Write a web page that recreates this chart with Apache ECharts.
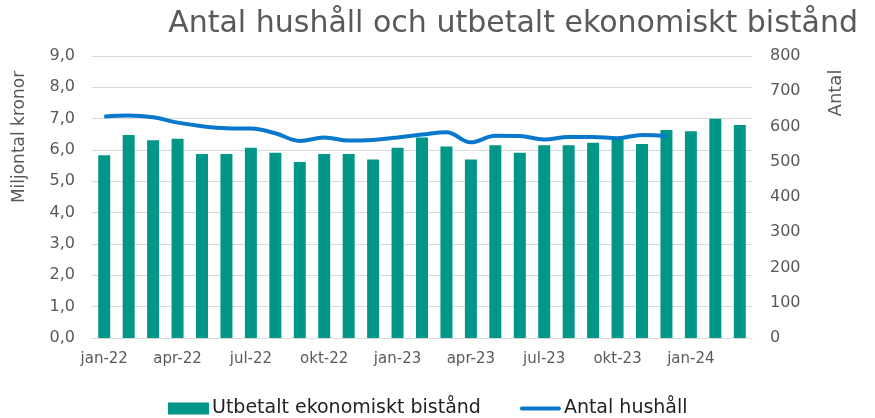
<!DOCTYPE html>
<html>
<head>
<meta charset="utf-8">
<script src="https://cdn.jsdelivr.net/npm/echarts@6/dist/echarts.min.js"></script>
<style>html,body{margin:0;padding:0;background:#fff}#c{width:875px;height:418px}</style>
</head>
<body>
<div id="c"></div>
<script>
const categories = ['jan-22','feb-22','mar-22','apr-22','maj-22','jun-22','jul-22','aug-22','sep-22','okt-22','nov-22','dec-22',
  'jan-23','feb-23','mar-23','apr-23','maj-23','jun-23','jul-23','aug-23','sep-23','okt-23','nov-23','dec-23',
  'jan-24','feb-24','mar-24'];
const utbetalt = [5.83,6.48,6.31,6.36,5.87,5.87,6.07,5.91,5.62,5.87,5.87,5.70,
  6.07,6.40,6.11,5.70,6.15,5.91,6.15,6.15,6.23,6.35,6.19,6.64,6.60,7.00,6.80];
const hushall = [628,631,626,611,601,595,594,581,559,569,560,562,
  569,577,584,555,574,573,563,570,570,567,576,573];
const leftTicks = [0,1,2,3,4,5,6,7,8,9];
const rightTicks = [0,100,200,300,400,500,600,700,800];

const font = '"DejaVu Sans", sans-serif';
const grey = '#595959';
const chart = echarts.init(document.getElementById('c'));
chart.setOption({
  animation: false,
  textStyle: {fontFamily: font},
  title: {
    text: 'Antal hushåll och utbetalt ekonomiskt bistånd',
    right: 12, top: 4,
    textStyle: {fontFamily: font, fontSize: 30, fontWeight: 'normal', color: grey}
  },
  legend: {
    top: 394, left: 163,
    itemGap: 39, itemWidth: 41, itemHeight: 12, itemStyle: {borderWidth: 0},
    textStyle: {fontFamily: font, fontSize: 19, color: '#222', padding: [0,0,0,-2]},
    data: [
      {name: 'Utbetalt ekonomiskt bistånd', icon: 'rect'},
      {name: 'Antal hushåll', icon: 'path://M2,0 L40,0 A2,2 0 0 1 40,4 L2,4 A2,2 0 0 1 2,0 Z'}
    ]
  },
  grid: {left: 92, right: 123, top: 56, bottom: 80},
  xAxis: {
    type: 'category', data: categories,
    axisLine: {lineStyle: {color: '#d9d9d9'}},
    axisTick: {interval: 2, length: 6, lineStyle: {color: '#d9d9d9'}},
    axisLabel: {interval: 2, color: grey, fontSize: 15, margin: 14, fontFamily: font}
  },
  yAxis: [
    {
      type: 'value', min: leftTicks[0], max: leftTicks[leftTicks.length-1], interval: 1,
      axisLabel: {color: grey, fontSize: 16, margin: 17, fontFamily: font,
        formatter: v => v.toFixed(1).replace('.', ',')},
      splitLine: {lineStyle: {color: '#d9d9d9'}},
      axisLine: {show: false}, axisTick: {show: false}
    },
    {
      type: 'value', min: rightTicks[0], max: rightTicks[rightTicks.length-1], interval: 100,
      axisLabel: {color: grey, fontSize: 16, margin: 18, fontFamily: font},
      splitLine: {show: false},
      axisLine: {show: false}, axisTick: {show: false}
    }
  ],
  graphic: [
    {type: 'text', x: 20, y: 137, rotation: Math.PI/2, style: {text: 'Miljontal kronor', fill: grey, font: '17px ' + font, textAlign: 'center', textVerticalAlign: 'middle'}},
    {type: 'text', x: 836, y: 93, rotation: Math.PI/2, style: {text: 'Antal', fill: grey, font: '18px ' + font, textAlign: 'center', textVerticalAlign: 'middle'}}
  ],
  series: [
    {
      name: 'Utbetalt ekonomiskt bistånd', type: 'bar', data: utbetalt,
      barWidth: 12, itemStyle: {color: '#009688'}, yAxisIndex: 0
    },
    {
      name: 'Antal hushåll', type: 'line', data: hushall, yAxisIndex: 1,
      smooth: 0.4, symbol: 'none',
      lineStyle: {color: '#0878cc', width: 4}, itemStyle: {color: '#0878cc'}
    }
  ]
});
</script>
</body>
</html>
